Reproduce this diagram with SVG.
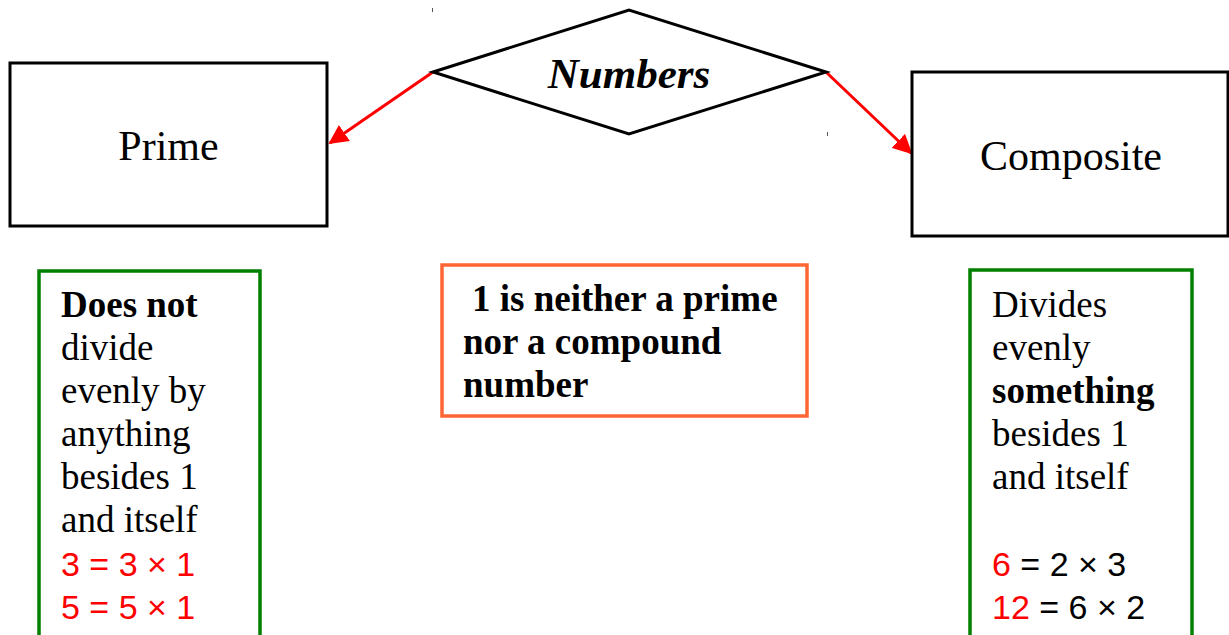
<svg xmlns="http://www.w3.org/2000/svg" width="1229" height="635" viewBox="0 0 1229 635">
<style>
.box{fill:#fff;stroke:#000;stroke-width:3}
.green{fill:#fff;stroke:#008000;stroke-width:3.5}
.orange{fill:#fff;stroke:#ff6633;stroke-width:3.5}
.serif{font-family:"Liberation Serif","Times New Roman",serif;fill:#000}
.sans{font-family:"Liberation Sans",Arial,sans-serif;font-size:34px}
.body{font-size:37px}
.red{fill:#ff0000}
.conn{stroke:#ff0000;stroke-width:3;fill:none}
</style>
<defs>
<marker id="ah" viewBox="0 0 10 10" refX="9" refY="5" markerWidth="6.5" markerHeight="6.5" markerUnits="strokeWidth" orient="auto">
<path d="M0,0 L10,5 L0,10 z" fill="#ff0000"/>
</marker>
</defs>
<rect width="1229" height="635" fill="#fff"/>
<g id="ticks" stroke="#555" stroke-width="1">
<line x1="432.5" y1="8" x2="432.5" y2="12"/>
<line x1="827.5" y1="132" x2="827.5" y2="136"/>
</g>
<g id="connectors">
<line class="conn" x1="433" y1="72" x2="330" y2="143" marker-end="url(#ah)"/>
<line class="conn" x1="826" y1="72" x2="911" y2="153" marker-end="url(#ah)"/>
</g>
<g id="numbers">
<polygon class="box" points="433,72 629,10 826,72 629,134"/>
<text class="serif" x="629" y="88" text-anchor="middle" font-size="43" font-weight="bold" font-style="italic">Numbers</text>
</g>
<g id="prime">
<rect class="box" x="10" y="63" width="317" height="163"/>
<text class="serif" x="168.5" y="160" text-anchor="middle" font-size="42">Prime</text>
</g>
<g id="composite">
<rect class="box" x="912" y="72" width="316" height="164"/>
<text class="serif" x="1071" y="170" text-anchor="middle" font-size="42">Composite</text>
</g>
<g id="prime-note">
<rect class="green" x="39" y="271" width="221" height="380"/>
<text class="serif body" x="61">
<tspan x="61" y="317" font-weight="bold">Does not</tspan>
<tspan x="61" y="360">divide</tspan>
<tspan x="61" y="403">evenly by</tspan>
<tspan x="61" y="446">anything</tspan>
<tspan x="61" y="489">besides 1</tspan>
<tspan x="61" y="532">and itself</tspan>
</text>
<text class="sans red" x="61" y="576">3 = 3 × 1</text>
<text class="sans red" x="61" y="619">5 = 5 × 1</text>
</g>
<g id="one-note">
<rect class="orange" x="442" y="265" width="365" height="151"/>
<text class="serif body" font-weight="bold">
<tspan x="472" y="311">1 is neither a prime</tspan>
<tspan x="463" y="354">nor a compound</tspan>
<tspan x="463" y="397">number</tspan>
</text>
</g>
<g id="composite-note">
<rect class="green" x="970" y="270" width="222" height="380"/>
<text class="serif body">
<tspan x="992" y="317">Divides</tspan>
<tspan x="992" y="360">evenly</tspan>
<tspan x="992" y="403" font-weight="bold">something</tspan>
<tspan x="992" y="446">besides 1</tspan>
<tspan x="992" y="489">and itself</tspan>
</text>
<text class="sans" x="992" y="576"><tspan class="red">6</tspan> = 2 × 3</text>
<text class="sans" x="992" y="619"><tspan class="red">12</tspan> = 6 × 2</text>
</g>
</svg>
